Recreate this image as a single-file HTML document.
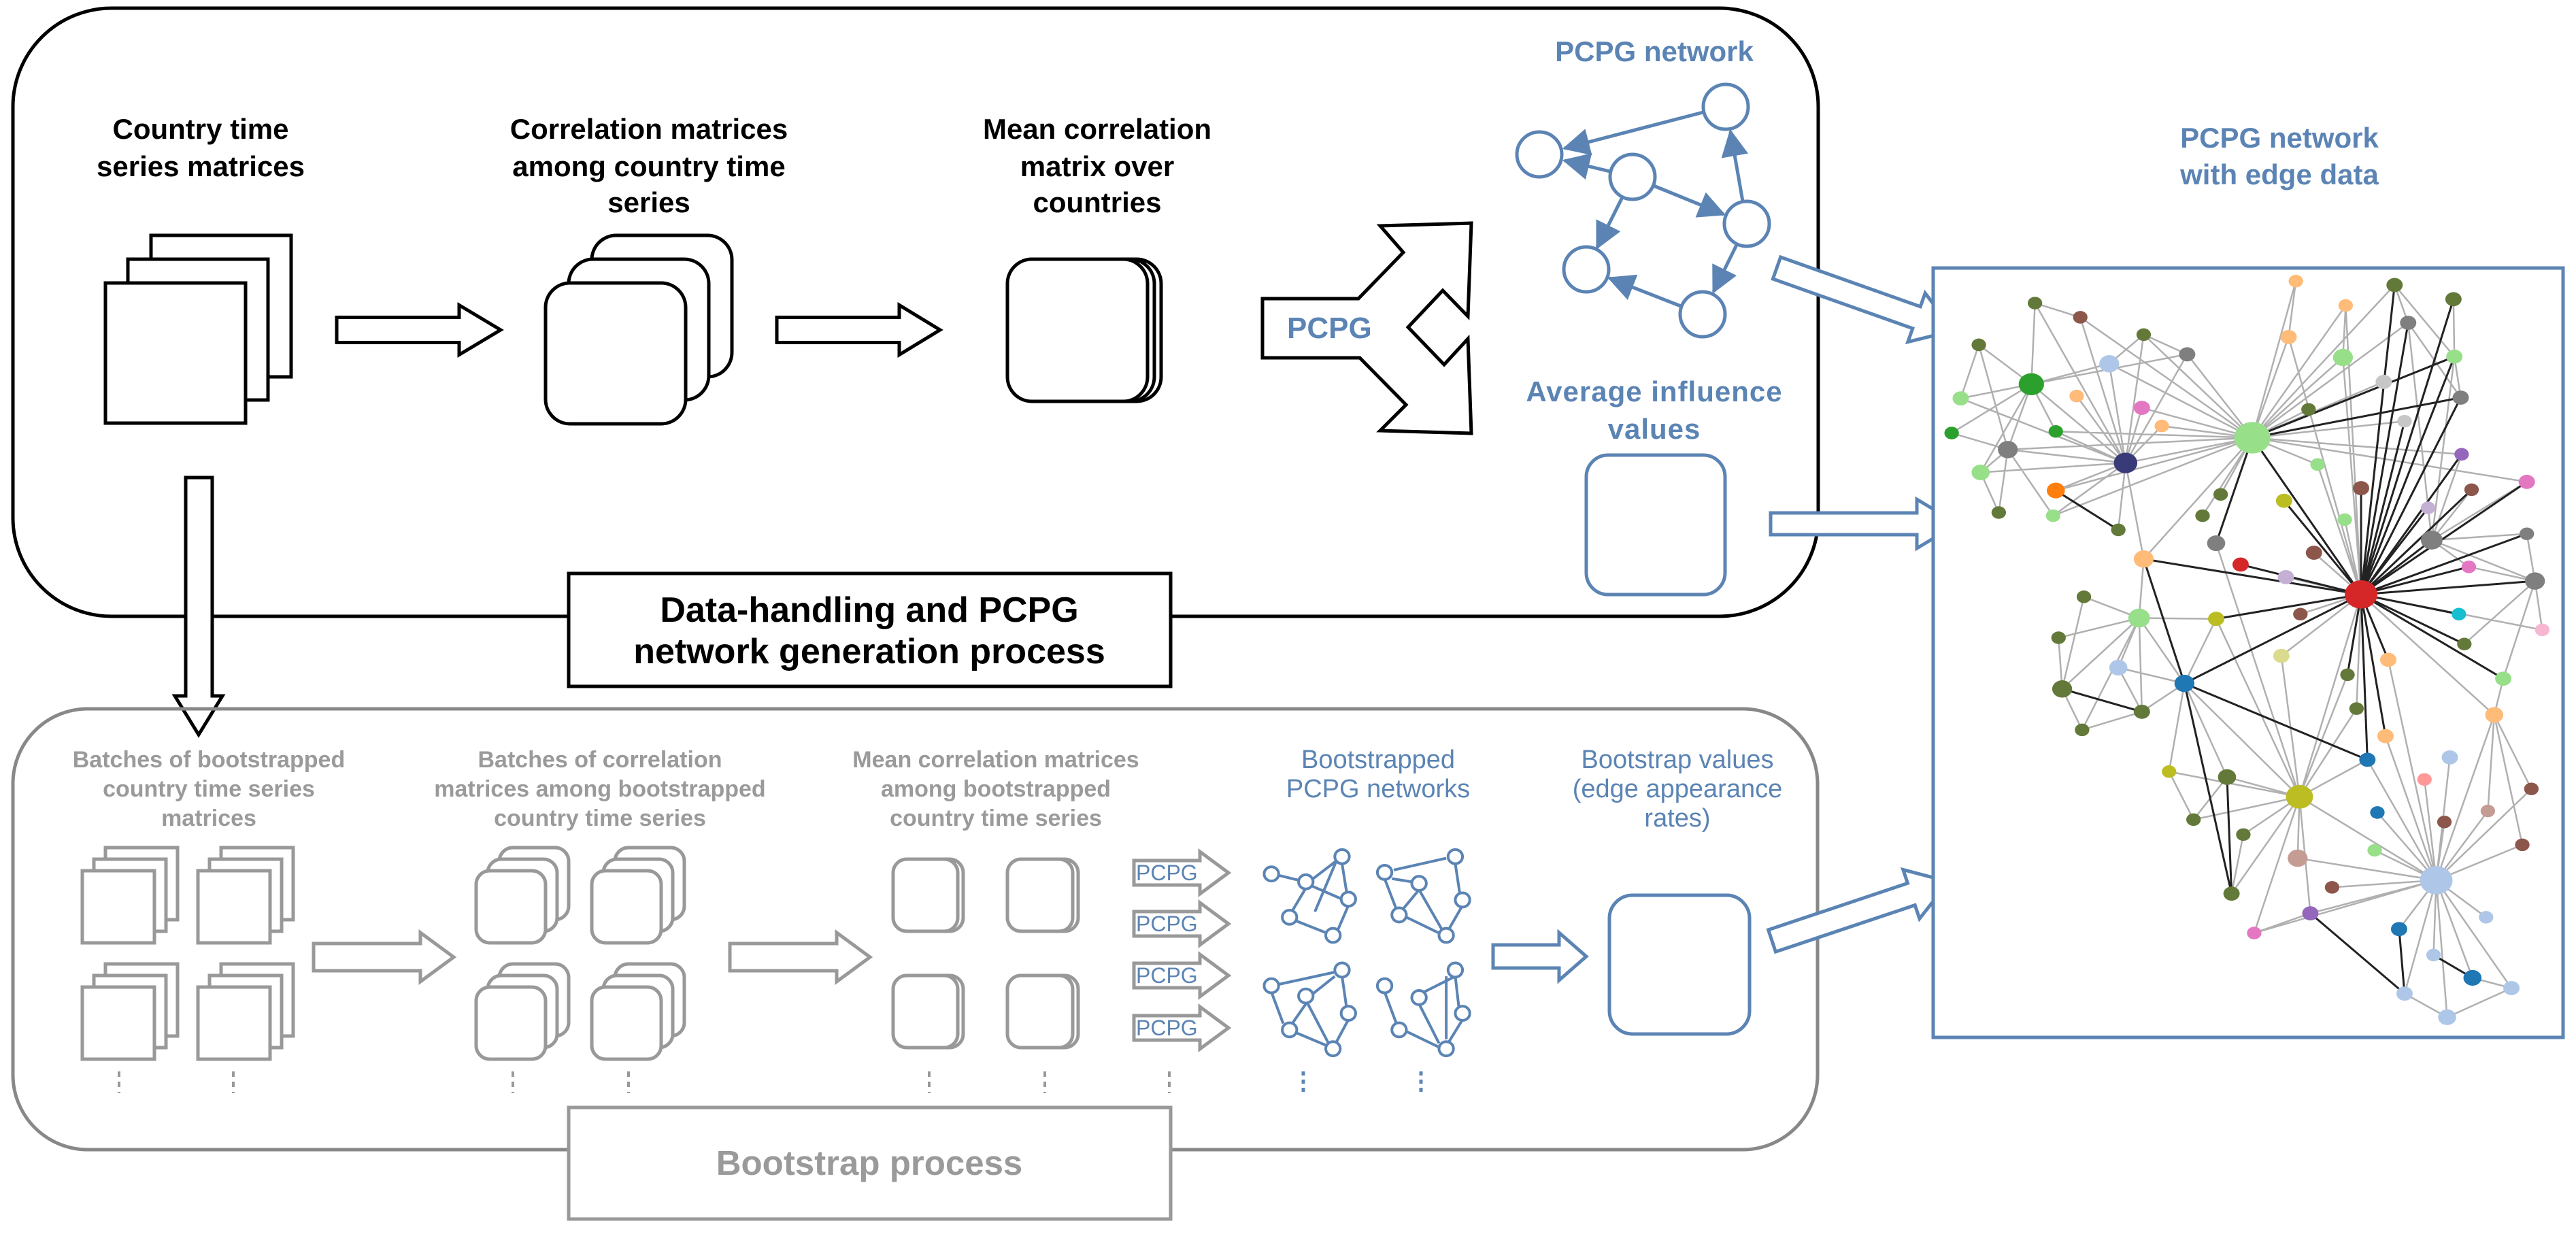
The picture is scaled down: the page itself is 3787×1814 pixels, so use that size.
<!DOCTYPE html>
<html><head><meta charset="utf-8"><style>html,body{margin:0;padding:0;background:#fff}svg{display:block}</style></head>
<body>
<svg width="3787" height="1814" viewBox="0 0 3787 1814" xmlns="http://www.w3.org/2000/svg" font-family="Liberation Sans, sans-serif">
<defs>
<marker id="ah" viewBox="0 0 12 12" refX="11" refY="6" markerWidth="8" markerHeight="8" markerUnits="strokeWidth" orient="auto"><path d="M0,0 L12,6 L0,12 z" fill="#5b84b4"/></marker>
<marker id="sh" viewBox="0 0 12 12" refX="11" refY="6" markerWidth="4" markerHeight="4" markerUnits="strokeWidth" orient="auto"><path d="M0,0 L12,6 L0,12 z" fill="#5b84b4"/></marker>
</defs>

<!-- Top box -->
<rect x="19" y="12" width="2654" height="894" rx="145" fill="none" stroke="#000" stroke-width="5"/>
<g font-weight="bold" font-size="42" text-anchor="middle" fill="#000">
<text x="295" y="204">Country time</text><text x="295" y="259">series matrices</text>
<text x="954" y="204">Correlation matrices</text><text x="954" y="259">among country time</text><text x="954" y="312">series</text>
<text x="1613" y="204">Mean correlation</text><text x="1613" y="259">matrix over</text><text x="1613" y="312">countries</text>
</g>
<g fill="#fff" stroke="#000" stroke-width="5">
<rect x="222" y="346" width="206" height="208"/><rect x="188" y="381" width="206" height="207"/><rect x="155" y="416" width="206" height="206"/>
<rect x="870" y="346" width="206" height="208" rx="36"/><rect x="836" y="381" width="206" height="207" rx="36"/><rect x="802" y="416" width="206" height="207" rx="36"/>
<rect x="1501" y="381" width="206" height="209" rx="36"/><rect x="1491" y="381" width="206" height="209" rx="36"/><rect x="1481" y="381" width="206" height="209" rx="36"/>
<path d="M495,466.5 H675 V448.5 L736,485 L675,521.5 V503.5 H495 Z"/>
<path d="M1142,466.5 H1322 V448.5 L1382,485 L1322,521.5 V503.5 H1142 Z"/>
<path d="M1856,439 L1997,439 L2063,371 L2029,332 L2163,328 L2158,465 L2121,427 L2070,481 L2123,536 L2158,498 L2163,637 L2029,633 L2067,595 L1999,526 L1856,526 Z"/>
<path d="M273,702 H312 V1023 H327 L292,1080 L257,1023 H273 Z"/>
</g>
<text x="1892" y="497" font-size="44" font-weight="bold" fill="#5b84b4">PCPG</text>

<!-- small PCPG network -->
<g fill="#fff" stroke="#5b84b4" stroke-width="5">
<line x1="2504" y1="165" x2="2300" y2="218" marker-end="url(#ah)"/>
<line x1="2367" y1="252" x2="2300" y2="236" marker-end="url(#ah)"/>
<line x1="2385" y1="290" x2="2348" y2="364" marker-end="url(#ah)"/>
<line x1="2431" y1="273" x2="2534" y2="315" marker-end="url(#ah)"/>
<line x1="2562" y1="296" x2="2544" y2="193" marker-end="url(#ah)"/>
<line x1="2553" y1="360" x2="2519" y2="429" marker-end="url(#ah)"/>
<line x1="2471" y1="450" x2="2366" y2="409" marker-end="url(#ah)"/>
<circle cx="2537" cy="157" r="33"/><circle cx="2263" cy="227" r="33"/><circle cx="2400" cy="260" r="33"/>
<circle cx="2568" cy="329" r="33"/><circle cx="2332" cy="396" r="33"/><circle cx="2503" cy="462" r="33"/>
</g>
<g font-weight="bold" font-size="42" text-anchor="middle" fill="#5b84b4">
<text x="2432" y="90">PCPG network</text>
<text x="2432" y="590" letter-spacing="1">Average influence</text><text x="2432" y="645" letter-spacing="1">values</text>
<text x="3351" y="217">PCPG network</text><text x="3351" y="271">with edge data</text>
</g>
<rect x="2332" y="669" width="204" height="205" rx="32" fill="#fff" stroke="#5b84b4" stroke-width="5"/>

<!-- Data handling label -->
<rect x="836" y="843" width="885" height="166" fill="#fff" stroke="#000" stroke-width="5"/>
<g font-weight="bold" font-size="52" text-anchor="middle" fill="#000">
<text x="1278" y="914">Data-handling and PCPG</text><text x="1278" y="975">network generation process</text>
</g>

<!-- Bottom box -->
<rect x="19" y="1042" width="2653" height="648" rx="110" fill="none" stroke="#888" stroke-width="5"/>
<g font-weight="bold" font-size="34" text-anchor="middle" fill="#9a9a9a">
<text x="307" y="1128">Batches of bootstrapped</text><text x="307" y="1171">country time series</text><text x="307" y="1214">matrices</text>
<text x="882" y="1128">Batches of correlation</text><text x="882" y="1171">matrices among bootstrapped</text><text x="882" y="1214">country time series</text>
<text x="1464" y="1128">Mean correlation matrices</text><text x="1464" y="1171">among bootstrapped</text><text x="1464" y="1214">country time series</text>
</g>
<g fill="#fff" stroke="#999" stroke-width="5">
<!-- sheet stacks -->
<g id="st"><rect x="155" y="1246" width="106" height="106"/><rect x="138" y="1263" width="106" height="106"/><rect x="121" y="1280" width="106" height="106"/></g>
<g transform="translate(170,0)"><rect x="155" y="1246" width="106" height="106"/><rect x="138" y="1263" width="106" height="106"/><rect x="121" y="1280" width="106" height="106"/></g>
<g transform="translate(0,171)"><rect x="155" y="1246" width="106" height="106"/><rect x="138" y="1263" width="106" height="106"/><rect x="121" y="1280" width="106" height="106"/></g>
<g transform="translate(170,171)"><rect x="155" y="1246" width="106" height="106"/><rect x="138" y="1263" width="106" height="106"/><rect x="121" y="1280" width="106" height="106"/></g>
<!-- corr stacks -->
<g><rect x="734" y="1246" width="102" height="106" rx="20"/><rect x="717" y="1263" width="102" height="106" rx="20"/><rect x="700" y="1280" width="102" height="106" rx="20"/></g>
<g transform="translate(170,0)"><rect x="734" y="1246" width="102" height="106" rx="20"/><rect x="717" y="1263" width="102" height="106" rx="20"/><rect x="700" y="1280" width="102" height="106" rx="20"/></g>
<g transform="translate(0,171)"><rect x="734" y="1246" width="102" height="106" rx="20"/><rect x="717" y="1263" width="102" height="106" rx="20"/><rect x="700" y="1280" width="102" height="106" rx="20"/></g>
<g transform="translate(170,171)"><rect x="734" y="1246" width="102" height="106" rx="20"/><rect x="717" y="1263" width="102" height="106" rx="20"/><rect x="700" y="1280" width="102" height="106" rx="20"/></g>
<!-- mean -->
<rect x="1321" y="1263" width="95" height="106" rx="20"/><rect x="1313" y="1263" width="95" height="106" rx="20"/>
<rect x="1489" y="1263" width="96" height="106" rx="20"/><rect x="1481" y="1263" width="96" height="106" rx="20"/>
<rect x="1321" y="1434" width="95" height="106" rx="20"/><rect x="1313" y="1434" width="95" height="106" rx="20"/>
<rect x="1489" y="1434" width="96" height="106" rx="20"/><rect x="1481" y="1434" width="96" height="106" rx="20"/>
<path d="M461,1387 H618 V1371 L667,1407 L618,1443 V1427 H461 Z"/>
<path d="M1073,1387 H1230 V1371 L1279,1407 L1230,1443 V1427 H1073 Z"/>
<path d="M1667,1265 H1764 V1252 L1806,1283 L1764,1314 V1301 H1667 Z"/>
<path d="M1667,1340 H1764 V1327 L1806,1358 L1764,1389 V1376 H1667 Z"/>
<path d="M1667,1416 H1764 V1403 L1806,1434 L1764,1465 V1452 H1667 Z"/>
<path d="M1667,1493 H1764 V1480 L1806,1511 L1764,1542 V1529 H1667 Z"/>
</g>
<g font-size="32" fill="#5b84b4"><text x="1670" y="1294">PCPG</text><text x="1670" y="1369">PCPG</text><text x="1670" y="1445">PCPG</text><text x="1670" y="1522">PCPG</text></g>
<g stroke="#999" stroke-width="4" stroke-dasharray="8 7">
<line x1="175" y1="1575" x2="175" y2="1607"/><line x1="343" y1="1575" x2="343" y2="1607"/>
<line x1="754" y1="1575" x2="754" y2="1607"/><line x1="924" y1="1575" x2="924" y2="1607"/>
<line x1="1366" y1="1575" x2="1366" y2="1607"/><line x1="1536" y1="1575" x2="1536" y2="1607"/><line x1="1719" y1="1575" x2="1719" y2="1607"/>
</g>
<g stroke="#5b84b4" stroke-width="5" stroke-dasharray="6 6">
<line x1="1916" y1="1575" x2="1916" y2="1607"/><line x1="2089" y1="1575" x2="2089" y2="1607"/>
</g>
<g font-size="38" text-anchor="middle" fill="#5b84b4">
<text x="2026" y="1129">Bootstrapped</text><text x="2026" y="1172">PCPG networks</text>
<text x="2466" y="1129">Bootstrap values</text><text x="2466" y="1172">(edge appearance</text><text x="2466" y="1215">rates)</text>
</g>
<rect x="2366" y="1316" width="206" height="204" rx="34" fill="#fff" stroke="#5b84b4" stroke-width="5"/>
<rect x="836" y="1628" width="885" height="164" fill="#fff" stroke="#999" stroke-width="5"/>
<text x="1278" y="1727" font-weight="bold" font-size="51" text-anchor="middle" fill="#9a9a9a">Bootstrap process</text>

<!-- blue block arrows -->
<g fill="#fff" stroke="#5b84b4" stroke-width="5">
<path transform="translate(2612,394) rotate(19.5)" d="M0,-17 H218 V-38 L276,0 L218,38 V17 H0 Z"/>
<path transform="translate(2603,770)" d="M0,-16 H215 V-36 L275,0 L215,36 V16 H0 Z"/>
<path transform="translate(2605,1383) rotate(-18.5)" d="M0,-17 H216 V-38 L274,0 L216,38 V17 H0 Z"/>
<path transform="translate(2195,1406)" d="M0,-17 H97 V-35 L137,0 L97,35 V17 H0 Z"/>
</g>

<!-- mini bootstrapped networks (zoom coords) -->
<g transform="translate(1700,0) scale(1.3316,1.1574)" fill="#fff" stroke="#5b84b4" stroke-width="4">
<g vector-effect="non-scaling-stroke">
<path vector-effect="non-scaling-stroke" fill="none" d="M136,1112L157,1118 M173,1116L198,1094 M205,1097L210,1133 M200,1090L175,1158 M165,1128L150,1157 M155,1170L188,1185 M212,1150L200,1182 M165,1122L205,1142
M320,1090L262,1105 M260,1116L282,1120 M290,1130L272,1155 M330,1097L335,1135 M276,1165L312,1185 M290,1130L315,1180 M338,1150L322,1182 M252,1116L265,1155
M136,1250L196,1235 M127,1260L140,1300 M173,1262L197,1240 M165,1275L150,1300 M205,1240L210,1280 M212,1295L198,1325 M165,1270L190,1325 M155,1312L188,1328
M252,1260L265,1300 M290,1275L312,1325 M330,1240L334,1280 M338,1295L322,1325 M276,1310L312,1330 M330,1240L292,1262 M320,1240L320,1320"/>
</g>
<g>
<ellipse cx="127" cy="1110" rx="8" ry="9" vector-effect="non-scaling-stroke"/><ellipse cx="165" cy="1120" rx="8" ry="9" vector-effect="non-scaling-stroke"/><ellipse cx="205" cy="1088" rx="8" ry="9" vector-effect="non-scaling-stroke"/><ellipse cx="212" cy="1142" rx="8" ry="9" vector-effect="non-scaling-stroke"/><ellipse cx="147" cy="1165" rx="8" ry="9" vector-effect="non-scaling-stroke"/><ellipse cx="195" cy="1188" rx="8" ry="9" vector-effect="non-scaling-stroke"/>
<ellipse cx="252" cy="1108" rx="8" ry="9" vector-effect="non-scaling-stroke"/><ellipse cx="290" cy="1122" rx="8" ry="9" vector-effect="non-scaling-stroke"/><ellipse cx="330" cy="1088" rx="8" ry="9" vector-effect="non-scaling-stroke"/><ellipse cx="338" cy="1143" rx="8" ry="9" vector-effect="non-scaling-stroke"/><ellipse cx="268" cy="1162" rx="8" ry="9" vector-effect="non-scaling-stroke"/><ellipse cx="320" cy="1188" rx="8" ry="9" vector-effect="non-scaling-stroke"/>
<ellipse cx="127" cy="1252" rx="8" ry="9" vector-effect="non-scaling-stroke"/><ellipse cx="165" cy="1265" rx="8" ry="9" vector-effect="non-scaling-stroke"/><ellipse cx="205" cy="1232" rx="8" ry="9" vector-effect="non-scaling-stroke"/><ellipse cx="212" cy="1287" rx="8" ry="9" vector-effect="non-scaling-stroke"/><ellipse cx="147" cy="1308" rx="8" ry="9" vector-effect="non-scaling-stroke"/><ellipse cx="195" cy="1332" rx="8" ry="9" vector-effect="non-scaling-stroke"/>
<ellipse cx="252" cy="1252" rx="8" ry="9" vector-effect="non-scaling-stroke"/><ellipse cx="290" cy="1267" rx="8" ry="9" vector-effect="non-scaling-stroke"/><ellipse cx="330" cy="1232" rx="8" ry="9" vector-effect="non-scaling-stroke"/><ellipse cx="338" cy="1287" rx="8" ry="9" vector-effect="non-scaling-stroke"/><ellipse cx="268" cy="1308" rx="8" ry="9" vector-effect="non-scaling-stroke"/><ellipse cx="320" cy="1332" rx="8" ry="9" vector-effect="non-scaling-stroke"/>
</g>
</g>

<!-- big network box -->
<rect x="2842" y="394" width="926" height="1131" fill="#fff" stroke="#5b84b4" stroke-width="5"/>
<g transform="translate(1700,0) scale(1.3316,1.1574)">
<path vector-effect="non-scaling-stroke" fill="none" stroke="#b0b0b0" stroke-width="2.5" d="
M1330 755L1328 822 M1330 755L1278 702 M1330 755L1247 733 M1330 755L1263 780 M1330 755L1242 833 M1330 755L1312 660 M1330 755L1282 590 M1330 755L1355 485 M1330 755L1310 454 M1330 755L1250 428 M1330 755L1313 388 M1330 755L1325 900 M1330 755L1477 908 M1330 755L1530 800 M1330 755L1262 1012
M1210 556L1138 450 M1210 556L1052 462 M1210 556L1088 518 M1210 556L1110 541 M1210 556L940 571 M1210 556L1070 588 M1210 556L993 623 M1210 556L1258 357 M1210 556L1313 388 M1210 556L1250 428 M1210 556L1310 454 M1210 556L1355 485 M1210 556L1272 520 M1210 556L1282 590 M1210 556L1175 628 M1210 556L1155 655 M1210 556L1090 710 M1210 556L1020 403 M1210 556L1090 425 M1210 556L1367 362 M1210 556L1382 410 M1210 556L1513 612 M1210 556L990 655 M1210 556L993 548 M1210 556L1378 535 M1210 556L1441 577
M1070 588L970 385 M1070 588L1020 403 M1070 588L1090 425 M1070 588L1138 450 M1070 588L1052 462 M1070 588L966 488 M1070 588L888 506 M1070 588L1016 503 M1070 588L1088 518 M1070 588L1110 541 M1070 588L993 548 M1070 588L940 571 M1070 588L910 600 M1070 588L993 623 M1070 588L990 655 M1070 588L1062 673 M1070 588L1090 710
M966 488L970 385 M966 488L908 438 M966 488L888 506 M966 488L878 550 M966 488L993 548 M966 488L940 571 M966 488L910 600 M966 488L1138 450 M966 488L1052 462
M940 571L878 550 M940 571L910 600 M940 571L930 651 M940 571L908 438 M940 571L990 655 M888 506L908 438 M910 600L930 651 M970 385L1020 403 M1090 425L1138 450 M1052 462L1090 425
M1413 1118L1357 935 M1413 1118L1477 908 M1413 1118L1428 962 M1413 1118L1262 1012 M1413 1118L1400 990 M1413 1118L1518 1002 M1413 1118L1348 1032 M1413 1118L1422 1044 M1413 1118L1470 1030 M1413 1118L1508 1073 M1413 1118L1345 1080 M1413 1118L1260 1090 M1413 1118L1298 1127 M1413 1118L1274 1160 M1413 1118L1468 1165 M1413 1118L1372 1180 M1413 1118L1410 1213 M1413 1118L1453 1242 M1413 1118L1378 1262 M1413 1118L1496 1255 M1413 1118L1425 1292 M1413 1118L1337 965 M1413 1118L1360 838 M1413 1118L1212 1185
M1262 1012L1135 868 M1262 1012L1118 980 M1262 1012L1182 987 M1262 1012L1145 1041 M1262 1012L1200 1060 M1262 1012L1260 1090 M1262 1012L1187 1135 M1262 1012L1337 965 M1262 1012L1325 900 M1262 1012L1242 833 M1262 1012L1170 786 M1262 1012L1315 857 M1262 1012L1170 690 M1262 1012L1274 1160 M1262 1012L1212 1185
M1135 868L1090 710 M1135 868L1085 785 M1135 868L1062 848 M1135 868L1088 904 M1135 868L1182 987 M1135 868L1170 786 M1135 868L1118 980
M1085 785L1024 758 M1085 785L996 810 M1085 785L1062 848 M1085 785L1000 875 M1085 785L1088 904 M1085 785L1022 927 M1085 785L1090 710 M1085 785L1170 786
M1000 875L996 810 M1000 875L1022 927 M1000 875L1024 758 M1022 927L1088 904 M1062 848L1088 904
M1408 686L1513 612 M1408 686L1513 678 M1408 686L1522 738 M1408 686L1449 720 M1408 686L1404 645 M1408 686L1452 622 M1408 686L1441 577 M1408 686L1382 410 M1408 686L1433 453
M1522 738L1513 678 M1522 738L1530 800 M1522 738L1449 720 M1522 738L1487 862 M1522 738L1444 818
M1477 908L1518 1002 M1477 908L1508 1073 M1477 908L1470 1030 M1477 908L1487 862
M1367 362L1382 410 M1432 380L1433 453 M1382 410L1440 505 M1258 357L1250 428 M1313 388L1310 454 M1367 362L1433 453 M1433 453L1440 505
M1425 1292L1378 1262 M1425 1292L1496 1255 M1453 1242L1496 1255 M1378 1262L1372 1180 M1212 1185L1274 1160 M1187 1135L1200 1060 M1145 1041L1182 987 M1118 980L1145 1041
"/>
<path vector-effect="non-scaling-stroke" fill="none" stroke="#222" stroke-width="3" d="
M1330 755L1382 410 M1330 755L1440 505 M1330 755L1441 577 M1330 755L1513 612 M1330 755L1452 622 M1330 755L1404 645 M1330 755L1408 686 M1330 755L1513 678 M1330 755L1449 720 M1330 755L1522 738 M1330 755L1438 780 M1330 755L1444 818 M1330 755L1487 862 M1330 755L1360 838 M1330 755L1357 935 M1330 755L1337 965 M1330 755L1315 857 M1330 755L1135 868 M1330 755L1170 786 M1330 755L1090 710 M1330 755L1197 717 M1330 755L1245 636 M1330 755L1330 620 M1330 755L1210 556 M1330 755L1432 380 M1330 755L1433 453 M1330 755L1378 535 M1330 755L1367 362
M1210 556L1433 453 M1210 556L1440 505 M1210 556L1170 690 M1135 868L1337 965 M1135 868L1187 1135 M1000 875L1088 904 M1274 1160L1378 1262 M1372 1180L1378 1262 M1453 1242L1410 1213 M1182 987L1187 1135 M1090 710L1135 868 M993 623L1062 673
"/>
<g stroke="none">
<circle cx="970" cy="385" r="8" fill="#637939"/><circle cx="1020" cy="403" r="8" fill="#8c564b"/><circle cx="908" cy="438" r="8" fill="#637939"/><circle cx="1090" cy="425" r="8" fill="#637939"/>
<circle cx="1138" cy="450" r="9" fill="#7f7f7f"/><circle cx="1052" cy="462" r="11" fill="#aec7e8"/><circle cx="966" cy="488" r="14" fill="#2ca02c"/><circle cx="888" cy="506" r="9" fill="#98df8a"/>
<circle cx="1016" cy="503" r="8" fill="#ffbb78"/><circle cx="1088" cy="518" r="9" fill="#e377c2"/><circle cx="1110" cy="541" r="8" fill="#ffbb78"/><circle cx="878" cy="550" r="8" fill="#2ca02c"/>
<circle cx="993" cy="548" r="8" fill="#2ca02c"/><circle cx="940" cy="571" r="11" fill="#7f7f7f"/><circle cx="1070" cy="588" r="13" fill="#393b79"/><circle cx="910" cy="600" r="10" fill="#98df8a"/>
<circle cx="993" cy="623" r="10" fill="#ff7f0e"/><circle cx="930" cy="651" r="8" fill="#637939"/><circle cx="990" cy="655" r="8" fill="#98df8a"/><circle cx="1062" cy="673" r="8" fill="#637939"/>
<circle cx="1210" cy="556" r="20" fill="#98df8a"/><circle cx="1258" cy="357" r="8" fill="#ffbb78"/><circle cx="1313" cy="388" r="8" fill="#ffbb78"/><circle cx="1367" cy="362" r="9" fill="#637939"/>
<circle cx="1432" cy="380" r="9" fill="#637939"/><circle cx="1250" cy="428" r="9" fill="#ffbb78"/><circle cx="1310" cy="454" r="11" fill="#98df8a"/><circle cx="1382" cy="410" r="9" fill="#7f7f7f"/>
<circle cx="1433" cy="453" r="9" fill="#98df8a"/><circle cx="1355" cy="485" r="9" fill="#c7c7c7"/><circle cx="1440" cy="505" r="9" fill="#7f7f7f"/><circle cx="1272" cy="520" r="8" fill="#637939"/>
<circle cx="1378" cy="535" r="8" fill="#c7c7c7"/><circle cx="1282" cy="590" r="8" fill="#98df8a"/><circle cx="1441" cy="577" r="8" fill="#9467bd"/><circle cx="1513" cy="612" r="9" fill="#e377c2"/>
<circle cx="1452" cy="622" r="8" fill="#8c564b"/><circle cx="1330" cy="620" r="9" fill="#8c564b"/><circle cx="1404" cy="645" r="8" fill="#c5b0d5"/><circle cx="1175" cy="628" r="8" fill="#637939"/>
<circle cx="1245" cy="636" r="9" fill="#bcbd22"/><circle cx="1155" cy="655" r="8" fill="#637939"/><circle cx="1312" cy="660" r="8" fill="#98df8a"/><circle cx="1170" cy="690" r="10" fill="#7f7f7f"/>
<circle cx="1408" cy="686" r="12" fill="#7f7f7f"/><circle cx="1513" cy="678" r="8" fill="#7f7f7f"/><circle cx="1090" cy="710" r="11" fill="#ffbb78"/><circle cx="1197" cy="717" r="9" fill="#d62728"/>
<circle cx="1278" cy="702" r="9" fill="#8c564b"/><circle cx="1449" cy="720" r="8" fill="#e377c2"/><circle cx="1247" cy="733" r="9" fill="#c5b0d5"/><circle cx="1330" cy="755" r="18" fill="#d62728"/>
<circle cx="1522" cy="738" r="11" fill="#7f7f7f"/><circle cx="1024" cy="758" r="8" fill="#637939"/><circle cx="1085" cy="785" r="12" fill="#98df8a"/><circle cx="1170" cy="786" r="9" fill="#bcbd22"/>
<circle cx="1263" cy="780" r="8" fill="#8c564b"/><circle cx="1438" cy="780" r="8" fill="#17becf"/><circle cx="1530" cy="800" r="8" fill="#f7b6d2"/><circle cx="996" cy="810" r="8" fill="#637939"/>
<circle cx="1242" cy="833" r="9" fill="#dbdb8d"/><circle cx="1360" cy="838" r="9" fill="#ffbb78"/><circle cx="1444" cy="818" r="8" fill="#637939"/><circle cx="1062" cy="848" r="10" fill="#aec7e8"/>
<circle cx="1135" cy="868" r="11" fill="#1f77b4"/><circle cx="1315" cy="857" r="8" fill="#637939"/><circle cx="1487" cy="862" r="9" fill="#98df8a"/><circle cx="1000" cy="875" r="11" fill="#637939"/>
<circle cx="1088" cy="904" r="9" fill="#637939"/><circle cx="1022" cy="927" r="8" fill="#637939"/><circle cx="1325" cy="900" r="8" fill="#637939"/><circle cx="1357" cy="935" r="9" fill="#ffbb78"/>
<circle cx="1477" cy="908" r="10" fill="#ffbb78"/><circle cx="1337" cy="965" r="9" fill="#1f77b4"/><circle cx="1428" cy="962" r="9" fill="#aec7e8"/><circle cx="1118" cy="980" r="8" fill="#bcbd22"/>
<circle cx="1182" cy="987" r="10" fill="#637939"/><circle cx="1262" cy="1012" r="15" fill="#bcbd22"/><circle cx="1400" cy="990" r="8" fill="#ff9896"/><circle cx="1518" cy="1002" r="8" fill="#8c564b"/>
<circle cx="1348" cy="1032" r="8" fill="#1f77b4"/><circle cx="1422" cy="1044" r="8" fill="#8c564b"/><circle cx="1470" cy="1030" r="8" fill="#c49c94"/><circle cx="1145" cy="1041" r="8" fill="#637939"/>
<circle cx="1200" cy="1060" r="8" fill="#637939"/><circle cx="1508" cy="1073" r="8" fill="#8c564b"/><circle cx="1345" cy="1080" r="8" fill="#98df8a"/><circle cx="1260" cy="1090" r="11" fill="#c49c94"/>
<circle cx="1413" cy="1118" r="18" fill="#aec7e8"/><circle cx="1298" cy="1127" r="8" fill="#8c564b"/><circle cx="1187" cy="1135" r="9" fill="#637939"/><circle cx="1274" cy="1160" r="9" fill="#9467bd"/>
<circle cx="1468" cy="1165" r="8" fill="#aec7e8"/><circle cx="1212" cy="1185" r="8" fill="#e377c2"/><circle cx="1372" cy="1180" r="9" fill="#1f77b4"/><circle cx="1410" cy="1213" r="8" fill="#aec7e8"/>
<circle cx="1453" cy="1242" r="10" fill="#1f77b4"/><circle cx="1378" cy="1262" r="9" fill="#aec7e8"/><circle cx="1496" cy="1255" r="9" fill="#aec7e8"/><circle cx="1425" cy="1292" r="10" fill="#aec7e8"/>
</g>
</g>
</svg>
</body></html>
